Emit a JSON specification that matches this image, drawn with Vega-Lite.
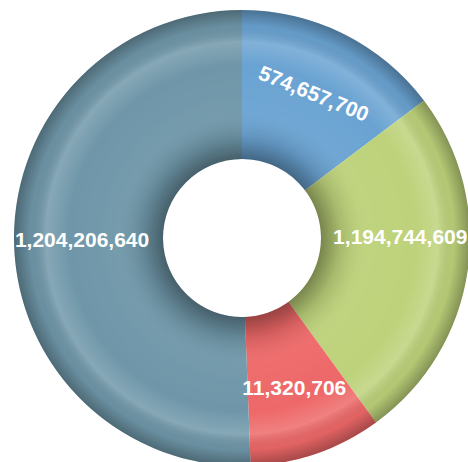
{
  "$schema": "https://vega.github.io/schema/vega-lite/v6.json",
  "width": 468,
  "height": 462,
  "autosize": {"type": "fit", "contains": "padding"},
  "padding": {"left": 16, "top": 14, "right": 0, "bottom": 0},
  "background": "white",
  "view": {"stroke": null},
  "data": {"values": [
    {"slice": "S1", "rank": 1, "value": 574657700, "label": "574,657,700", "share": 14.7},
    {"slice": "S2", "rank": 2, "value": 1194744609, "label": "1,194,744,609", "share": 25.3},
    {"slice": "S3", "rank": 3, "value": 11320706, "label": "11,320,706", "share": 9.4},
    {"slice": "S4", "rank": 4, "value": 1204206640, "label": "1,204,206,640", "share": 50.6}
  ]},
  "layer": [
    {
      "mark": {"type": "arc", "innerRadius": 79, "outerRadius": 228},
      "encoding": {
        "theta": {"field": "share", "type": "quantitative", "stack": true},
        "order": {"field": "rank", "type": "quantitative"},
        "color": {"field": "slice", "type": "nominal", "legend": null,
          "scale": {"domain": ["S1", "S2", "S3", "S4"], "range": ["#6aa3d2", "#bdd27a", "#ee6868", "#6f97a9"]}}
      }
    },
    {
      "data": {"values": [{"share": 100}]},
      "mark": {"type": "arc", "innerRadius": 79, "outerRadius": 228,
        "fill": {"gradient": "radial", "x1": 0.5, "y1": 0.5, "r1": 0, "x2": 0.5, "y2": 0.5, "r2": 0.5,
          "stops": [
            {"offset": 0.34, "color": "rgba(0,0,0,0.38)"},
            {"offset": 0.43, "color": "rgba(0,0,0,0.12)"},
            {"offset": 0.55, "color": "rgba(255,255,255,0.04)"},
            {"offset": 0.76, "color": "rgba(255,255,255,0.0)"},
            {"offset": 0.86, "color": "rgba(255,255,255,0.16)"},
            {"offset": 0.93, "color": "rgba(0,0,0,0.05)"},
            {"offset": 1.0, "color": "rgba(0,0,0,0.3)"}
          ]}},
      "encoding": {
        "theta": {"field": "share", "type": "quantitative", "stack": true}
      }
    },
    {
      "mark": {"type": "text", "radius": 160, "fontSize": 21, "fontWeight": "bold", "font": "Liberation Sans", "fill": "white"},
      "encoding": {
        "theta": {"field": "share", "type": "quantitative", "stack": true},
        "order": {"field": "rank", "type": "quantitative"},
        "text": {"condition": {"test": "datum.slice === 'S2'", "value": ""}, "field": "label"},
        "angle": {"condition": {"test": "datum.slice === 'S1'", "value": 22}, "value": 0}
      }
    },
    {
      "mark": {"type": "text", "radius": 160, "dy": -24, "fontSize": 21, "fontWeight": "bold", "font": "Liberation Sans", "fill": "white"},
      "encoding": {
        "theta": {"field": "share", "type": "quantitative", "stack": true},
        "order": {"field": "rank", "type": "quantitative"},
        "text": {"condition": {"test": "datum.slice !== 'S2'", "value": ""}, "field": "label"}
      }
    }
  ]
}
